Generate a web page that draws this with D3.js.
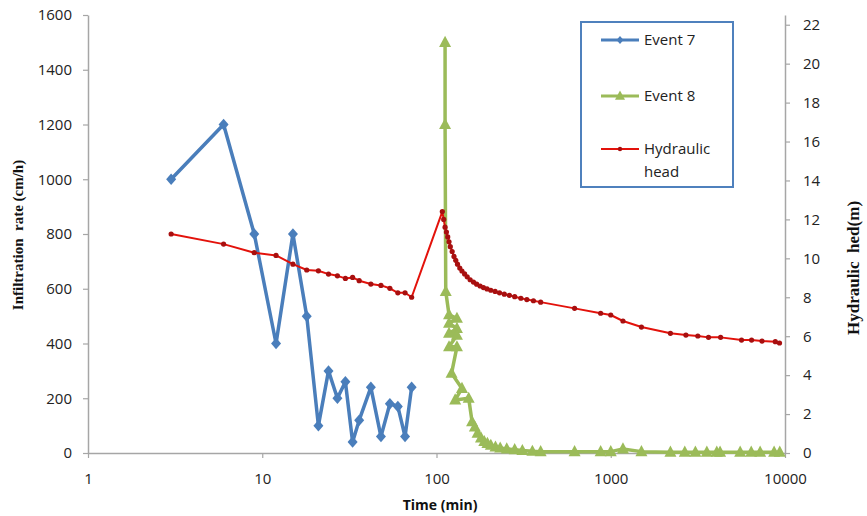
<!DOCTYPE html>
<html>
<head>
<meta charset="utf-8">
<script src="https://cdn.jsdelivr.net/npm/d3@7"></script>
<style>
  html, body { margin: 0; padding: 0; background: #fff; }
  svg { display: block; }
</style>
</head>
<body>
<svg id="chart" width="867" height="516"></svg>
<script>
// ---------- DATA ----------
const xTicks = [1, 10, 100, 1000, 10000];
const yLeftTicks = [0, 200, 400, 600, 800, 1000, 1200, 1400, 1600];
const yRightTicks = [0, 2, 4, 6, 8, 10, 12, 14, 16, 18, 20, 22];

// Event 7: time (min), infiltration rate (cm/h)
const event7Time = [3, 6, 9, 12, 15, 18, 21, 24, 27, 30, 33, 36, 42, 48, 54, 60, 66, 72];
const event7Rate = [1000, 1200, 800, 400, 800, 500, 100, 300, 200, 260, 40, 120, 240, 60, 180, 170, 60, 240];

// Event 8: time (min), infiltration rate (cm/h)
const event8Time = [112, 112, 113, 118, 131, 118, 131, 118, 131, 118, 131, 122, 140, 128, 153, 160, 166, 172, 180, 188, 196, 205, 218, 232, 253, 281, 311, 355, 396,
                    620, 875, 1000, 1175, 1500, 2200, 2660, 3060, 3560, 4060, 4240, 5530, 6400, 7200, 8660, 9330];
const event8Rate = [1500, 1200, 590, 505, 492, 474, 455, 437, 430, 388, 388, 291, 236, 194, 200, 114, 95, 72, 55, 42, 35, 28, 22, 18, 15, 12, 9, 6, 5,
                    5, 5, 5, 15, 5, 3, 3, 3, 3, 3, 3, 3, 3, 3, 3, 3];

// Hydraulic head: time (min), head (m)
const headTime = [3, 6, 9, 12, 15, 18, 21, 24, 27, 30, 33, 36, 42, 48, 54, 60, 66, 72,
                  108, 110, 112, 114, 116, 118, 120, 123, 126, 129, 132, 136, 140, 145, 150, 156, 163, 170, 178, 186, 195, 205, 217, 230, 245, 262, 281, 305, 330, 360, 396,
                  620, 875, 1000, 1175, 1500, 2200, 2700, 3160, 3640, 4270, 5630, 6430, 7380, 8800, 9300];
const headValue = [11.25, 10.73, 10.29, 10.15, 9.7, 9.4, 9.36, 9.19, 9.1, 8.97, 9.02, 8.85, 8.68, 8.61, 8.46, 8.23, 8.23, 8.0,
                   12.4, 12.0, 11.6, 11.35, 11.1, 10.85, 10.6, 10.35, 10.1, 9.9, 9.7, 9.5, 9.35, 9.2, 9.05, 8.9, 8.78, 8.67, 8.58, 8.5, 8.43, 8.36, 8.3, 8.23, 8.16, 8.1, 8.03, 7.95, 7.88, 7.82, 7.75,
                   7.43, 7.18, 7.09, 6.78, 6.47, 6.15, 6.06, 6.01, 5.94, 5.94, 5.80, 5.80, 5.75, 5.72, 5.65];

const seriesNames = ["Event 7", "Event 8", "Hydraulic head"];
const xTitle = "Time (min)";
const yLeftTitle = "Infiltration  rate (cm/h)";
const yRightTitle = "Hydraulic  hed(m)";

// ---------- DRAW ----------
const svg = d3.select("#chart");
const x = d3.scaleLog().domain([1, 10000]).range([88, 785]);
const yL = d3.scaleLinear().domain([0, 1600]).range([453, 15]);
const yR = d3.scaleLinear().domain([0, 22.5]).range([453, 15]);

const axisColor = "#a6a6a6";
const tickFont = "'Open Sans', 'Liberation Sans', sans-serif";
const blue = "#4a7ebb", green = "#9bbb59", red = "#e3120b", redDot = "#a80f0f";

function styleAxis(g) {
  g.selectAll(".domain").attr("stroke", axisColor).attr("stroke-width", 1.5);
  g.selectAll(".tick line").attr("stroke", axisColor).attr("stroke-width", 1.2);
  g.selectAll(".tick text").attr("fill", "#222").style("font-family", tickFont).style("font-size", "15px");
}

const gx = svg.append("g").attr("transform", "translate(0,453)")
  .call(d3.axisBottom(x).tickValues(xTicks).tickFormat(d3.format("d")).tickSize(5).tickPadding(15).tickSizeOuter(0));
styleAxis(gx);

const gyl = svg.append("g").attr("transform", "translate(88,0)")
  .call(d3.axisLeft(yL).tickValues(yLeftTicks).tickFormat(d3.format("d")).tickSize(5).tickPadding(11).tickSizeOuter(0));
styleAxis(gyl);

const gyr = svg.append("g").attr("transform", "translate(785,0)")
  .call(d3.axisRight(yR).tickValues(yRightTicks).tickFormat(d3.format("d")).tickSize(5).tickPadding(13).tickSizeOuter(0));
styleAxis(gyr);

// Axis titles
svg.append("text").attr("x", 440).attr("y", 510).attr("text-anchor", "middle")
  .style("font-family", tickFont).style("font-size", "14px").style("font-weight", "bold").attr("fill", "#111")
  .text(xTitle);
svg.append("text").attr("transform", "translate(23,235) rotate(-90)").attr("text-anchor", "middle")
  .style("font-family", "'Liberation Serif', serif").style("font-size", "15px").style("font-weight", "bold").attr("fill", "#111")
  .style("white-space", "pre").text(yLeftTitle);
svg.append("text").attr("transform", "translate(859,268) rotate(-90)").attr("text-anchor", "middle")
  .style("font-family", "'Liberation Serif', serif").style("font-size", "17px").style("font-weight", "bold").attr("fill", "#111")
  .style("white-space", "pre").text(yRightTitle);

// marker shapes
const diamond = (s) => `M0,${-s*1.15}L${s},0L0,${s*1.15}L${-s},0Z`;
const triangle = (s) => `M0,${-s*1.1}L${s},${s*0.75}L${-s},${s*0.75}Z`;

const e7 = event7Time.map((t, i) => [t, event7Rate[i]]);
const e8 = event8Time.map((t, i) => [t, event8Rate[i]]);
const hh = headTime.map((t, i) => [t, headValue[i]]);

const lineL = d3.line().x(d => x(d[0])).y(d => yL(d[1]));
const lineR = d3.line().x(d => x(d[0])).y(d => yR(d[1]));

svg.append("path").datum(e7).attr("d", lineL).attr("fill", "none").attr("stroke", blue).attr("stroke-width", 3.5).attr("stroke-linejoin", "round");
svg.append("g").selectAll("path").data(e7).join("path")
  .attr("transform", d => `translate(${x(d[0])},${yL(d[1])})`).attr("d", diamond(5)).attr("fill", blue);

svg.append("path").datum(e8).attr("d", lineL).attr("fill", "none").attr("stroke", green).attr("stroke-width", 3.5).attr("stroke-linejoin", "round");
svg.append("g").selectAll("path").data(e8).join("path")
  .attr("transform", d => `translate(${x(d[0])},${yL(d[1])})`).attr("d", triangle(6)).attr("fill", green);

svg.append("path").datum(hh).attr("d", lineR).attr("fill", "none").attr("stroke", red).attr("stroke-width", 2).attr("stroke-linejoin", "round");
svg.append("g").selectAll("circle").data(hh).join("circle")
  .attr("cx", d => x(d[0])).attr("cy", d => yR(d[1])).attr("r", 2.6).attr("fill", redDot);

// Legend
const lg = svg.append("g");
lg.append("rect").attr("x", 581).attr("y", 22).attr("width", 152).attr("height", 165)
  .attr("fill", "#fff").attr("stroke", "#4f81bd").attr("stroke-width", 2);
const legendY = [40, 96, 149];
const legendColors = [blue, green, red];
legendY.forEach((ly, i) => {
  lg.append("line").attr("x1", 601).attr("x2", 639).attr("y1", ly).attr("y2", ly)
    .attr("stroke", legendColors[i]).attr("stroke-width", i === 2 ? 2 : 3);
  if (i === 0) lg.append("path").attr("transform", `translate(620,${ly})`).attr("d", diamond(3.5)).attr("fill", blue);
  if (i === 1) lg.append("path").attr("transform", `translate(620,${ly})`).attr("d", triangle(5)).attr("fill", green);
  if (i === 2) lg.append("circle").attr("cx", 620).attr("cy", ly).attr("r", 2.2).attr("fill", redDot);
});
const legText = lg.append("g").style("font-family", tickFont).style("font-size", "15px").attr("fill", "#222");
legText.append("text").attr("x", 644).attr("y", 40).attr("dy", "0.35em").text(seriesNames[0]);
legText.append("text").attr("x", 644).attr("y", 96).attr("dy", "0.35em").text(seriesNames[1]);
const ht = legText.append("text").attr("x", 644).attr("y", 149).attr("dy", "0.35em");
ht.append("tspan").attr("x", 644).text(seriesNames[2].split(" ")[0]);
ht.append("tspan").attr("x", 644).attr("dy", "23").text(seriesNames[2].split(" ")[1]);
</script>
</body>
</html>
